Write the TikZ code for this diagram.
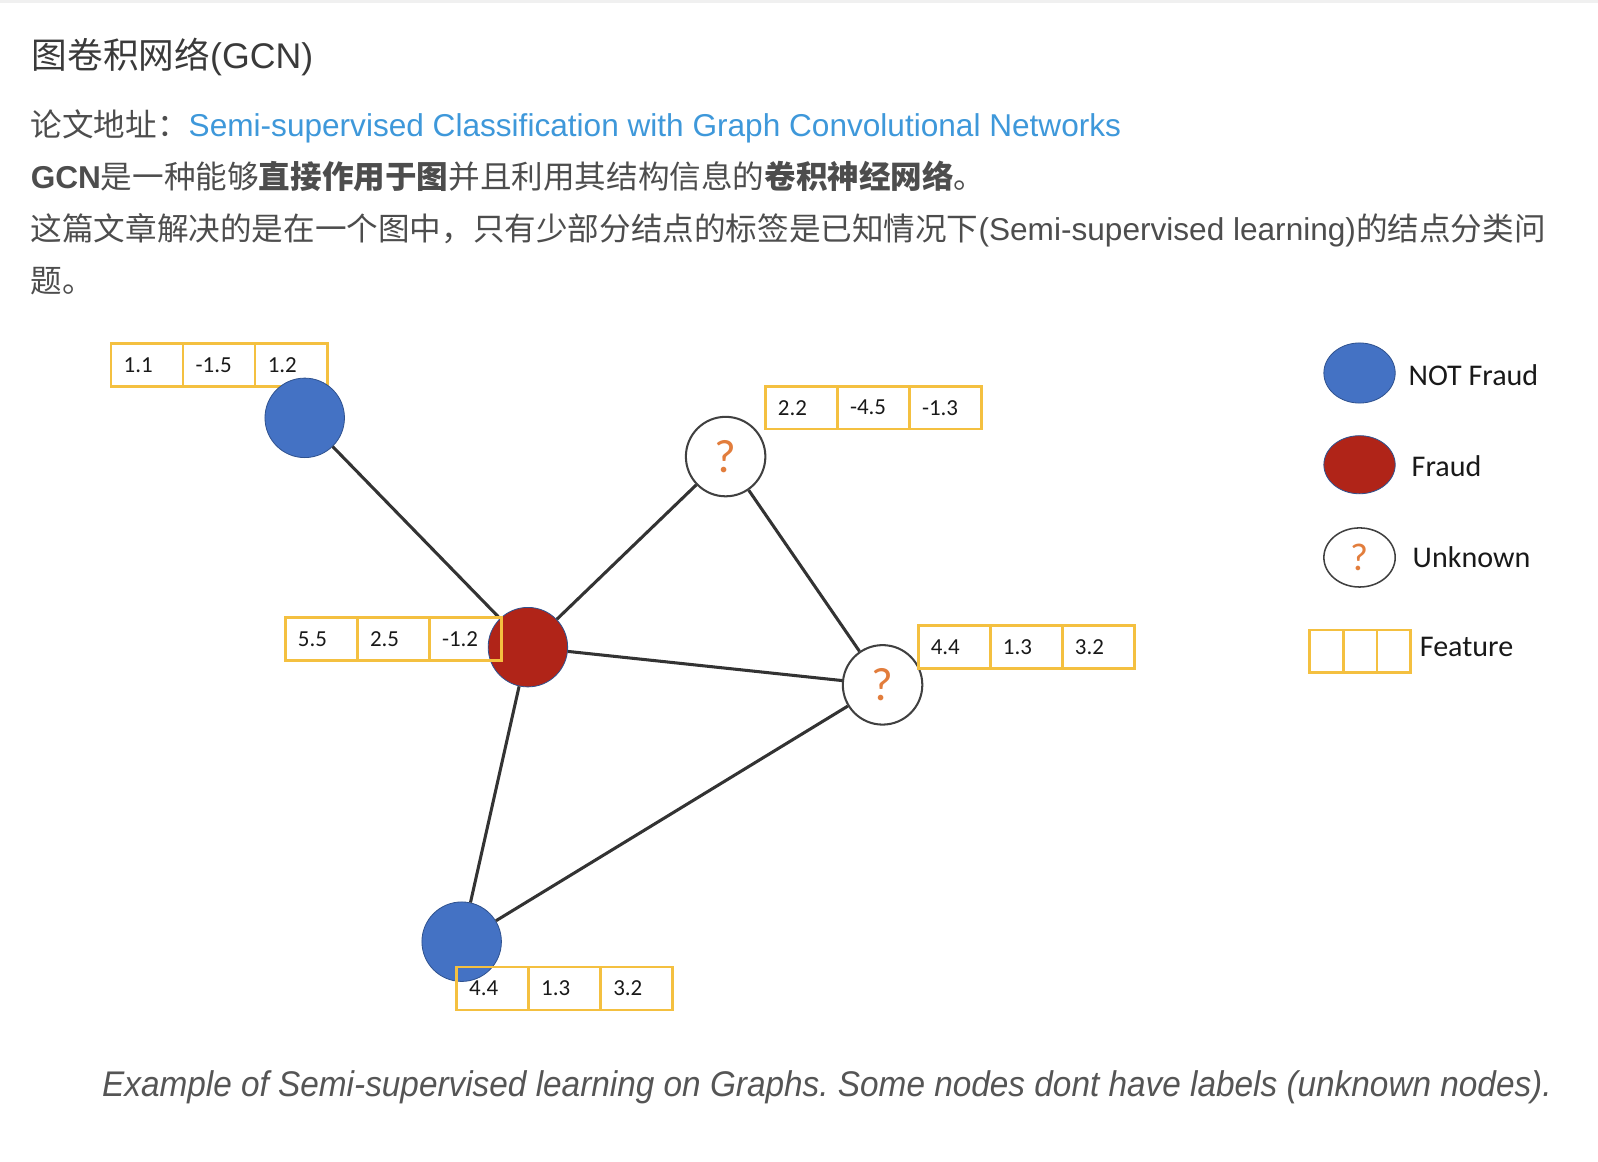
\documentclass[tikz,border=0pt]{standalone}
\usepackage{fontspec}
\setmainfont{Liberation Sans}
\newfontfamily\cjk{Noto Sans CJK SC}
\newfontfamily\calib{Carlito}
\newfontfamily\capfont[FakeStretch=0.935]{Liberation Sans}
\usepackage{tikz}
\usetikzlibrary{positioning,shapes.geometric}
\frenchspacing

\definecolor{textgray}{HTML}{4D4D4D}
\definecolor{titlegray}{HTML}{3A3A3A}
\definecolor{capgray}{HTML}{555555}
\definecolor{linkblue}{RGB}{62,152,218}
\definecolor{notblue}{RGB}{68,114,196}
\definecolor{rimblue}{RGB}{47,82,143}
\definecolor{fraudred}{RGB}{176,36,24}
\definecolor{featgold}{RGB}{244,192,64}
\definecolor{qorange}{RGB}{226,125,60}
\definecolor{edgegray}{HTML}{333333}

\tikzset{
  line/.style={anchor=base west, inner sep=0pt, text=textgray, font=\fontsize{31}{36}\selectfont},
  cell/.style={draw=featgold, line width=2.5pt, rectangle, minimum height=42pt, outer sep=0pt, inner sep=0pt},
  numcell/.style={cell, minimum width=70.7pt, text width=46pt, align=left, text=black!90, font=\calib\fontsize{22.5}{26}\selectfont},
  legcell/.style={cell, minimum width=33pt},
  notfraud/.style={circle, fill=notblue, draw=rimblue, line width=0.8pt, minimum size=78pt, inner sep=0pt},
  fraud/.style={notfraud, fill=fraudred},
  unknown/.style={notfraud, fill=white, draw=black!75, line width=2pt, text=qorange, font=\calib\fontsize{46}{50}\selectfont},
  edge/.style={draw=edgegray, line width=3pt},
  legtext/.style={anchor=base west, inner sep=0pt, text=black!90, font=\calib\fontsize{29.5}{34}\selectfont}
}

% three feature cells in a row: name, west point, values
\newcommand{\featbox}[5]{%
  \node[numcell, anchor=west] (#1a) at (#2) {#3};
  \node[numcell, right=0pt of #1a] (#1b) {#4};
  \node[numcell, right=0pt of #1b] (#1c) {#5};
}

\begin{document}
\begin{tikzpicture}[x=1pt, y=-1pt]
\useasboundingbox (0,0) rectangle (1568,1140);
\fill[black!6] (0,0) rectangle (1568,3);

\node[line, text=titlegray, font=\fontsize{35}{40}\selectfont] (title) at (31,67) {{\cjk 图卷积网络}(GCN)};
\node[line] (paper) at (30,134) {{\cjk 论文地址：}\textcolor{linkblue}{Semi-supervised Classification with Graph Convolutional Networks}};
\node[line] (intro) at (30,185) {\textbf{GCN}{\cjk 是一种能够\textbf{直接作用于图}并且利用其结构信息的\textbf{卷积神经网络}。}};
\node[line] (task) at (30,236) {{\cjk 这篇文章解决的是在一个图中，只有少部分结点的标签是已知情况下}(Semi-supervised learning){\cjk 的结点分类问}};
\node[line] (task2) at (30,287) {{\cjk 题。}};

\featbox{fblueA}{109,358}{1.1}{-1.5}{1.2}
\node[notfraud] (blueA) at (299,410) {};
\node[fraud] (red) at (518,635) {};
\node[unknown] (unkA) at (712,448) {?};
\node[unknown] (unkB) at (866,672) {?};
\node[notfraud] (blueB) at (453,924) {};

\draw[edge] (blueA) -- (red);
\draw[edge] (red) -- (unkA);
\draw[edge] (unkA) -- (unkB);
\draw[edge] (red) -- (unkB);
\draw[edge] (red) -- (blueB);
\draw[edge] (unkB) -- (blueB);

\featbox{fred}{280,627}{5.5}{2.5}{-1.2}
\featbox{funkA}{751,400}{2.2}{-4.5}{-1.3}
\featbox{funkB}{901,635}{4.4}{1.3}{3.2}
\featbox{fblueB}{448,970}{4.4}{1.3}{3.2}

% legend
\node[notfraud, ellipse, minimum width=70pt, minimum height=59pt] (lnot) at (1334,366) {};
\node[fraud, ellipse, minimum width=70pt, minimum height=57pt] (lfraud) at (1334,456) {};
\node[unknown, ellipse, minimum width=70pt, minimum height=58pt, line width=1.5pt, font=\calib\fontsize{38}{42}\selectfont] (lunk) at (1334,547) {?};
\node[legcell, anchor=west] (lfa) at (1285,639) {};
\node[legcell, right=0pt of lfa] (lfb) {};
\node[legcell, right=0pt of lfb] (lfc) {};
\node[legtext] (tnot) at (1382,378) {NOT Fraud};
\node[legtext] (tfraud) at (1385,468) {Fraud};
\node[legtext] (tunk) at (1386,557) {Unknown};
\node[legtext] (tfeat) at (1393,644) {Feature};

\node[anchor=base west, inner sep=0pt, text=capgray, font=\capfont\itshape\fontsize{35}{40}\selectfont] (caption) at (100,1076) {Example of Semi-supervised learning on Graphs. Some nodes dont have labels (unknown nodes).};
\end{tikzpicture}
\end{document}
